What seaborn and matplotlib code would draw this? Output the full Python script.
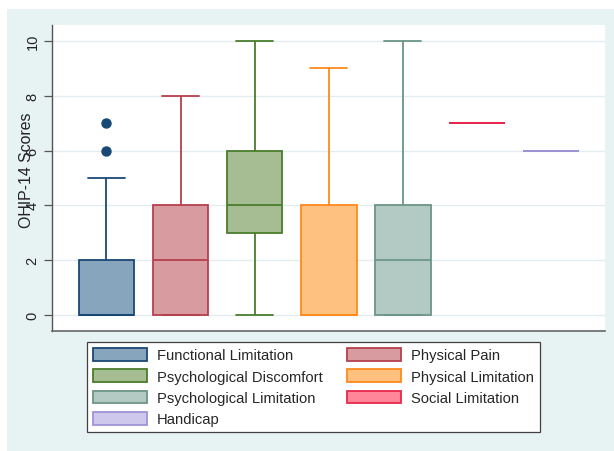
import pandas as pd
import matplotlib.pyplot as plt
import seaborn as sns
from matplotlib.patches import Patch, Rectangle

# OHIP-14 domain scores
domaines = ["Functional Limitation", "Physical Pain", "Psychological Discomfort",
            "Physical Limitation", "Psychological Limitation", "Social Limitation",
            "Handicap"]
functional_limitation = [0, 0, 0, 0, 0, 0, 0, 1, 2, 2, 5, 6, 7]
physical_pain = [0, 0, 0, 1, 2, 3, 4, 6, 8]
psychological_discomfort = [0, 2, 3, 3, 4, 5, 6, 8, 10]
physical_limitation = [0, 0, 0, 0, 0, 2, 4, 6, 9]
psychological_limitation = [0, 0, 0, 1, 2, 3, 4, 7, 10]
social_limitation = [7, 7, 7, 7, 7]
handicap = [6, 6, 6, 6, 6]

remplissage = ["#87a5bc", "#d89ca0", "#a6bd93", "#ffc17f", "#b3cac4", "#ff8599", "#cdc8ec"]
contours = ["#1a4876", "#b5404d", "#4b7d2b", "#ff8a1c", "#6b9588", "#e6284c", "#9f93d8"]

def tracer_boxplots_ohip() :
    series = [functional_limitation, physical_pain, psychological_discomfort,
              physical_limitation, psychological_limitation, social_limitation, handicap]
    lignes = []
    for nom, valeurs in zip(domaines, series) :
        for v in valeurs :
            lignes.append({"domaine": nom, "score": v})
    df = pd.DataFrame(lignes)

    sns.set_theme(style = "white")
    plt.rcParams['font.family'] = ['Liberation Sans', 'DejaVu Sans']

    fig = plt.figure(figsize = (6.14, 4.52), dpi = 100)
    fig.patch.set_facecolor("white")
    # fond du graphique (style Stata)
    fig.add_artist(Rectangle((7 / 614, 0), 1 - 7 / 614, 442 / 452, transform = fig.transFigure,
                             facecolor = "#e7f2f3", edgecolor = "none", zorder = 0))

    ax = fig.add_axes([52 / 614, 120 / 452, 553 / 614, 306 / 452])
    ax.set_facecolor("white")

    for i, nom in enumerate(domaines) :
        sous = df[df["domaine"] == nom]
        sns.boxplot(data = sous, x = "domaine", y = "score", order = domaines, ax = ax,
                    color = remplissage[i], linecolor = contours[i], saturation = 1,
                    width = 0.75, linewidth = 1.3, capwidths = 0.5, fliersize = 6.5,
                    flierprops = {"marker": "o", "markerfacecolor": contours[i],
                                  "markeredgecolor": contours[i]})

    ax.set_xlim(-0.735, 6.727)
    ax.set_ylim(-0.58, 10.58)
    ax.set_yticks(range(0, 11, 2))
    ax.set_xticks([])
    ax.set_xlabel("")
    ax.yaxis.grid(True, color = "#e3edf0", linewidth = 1)
    ax.set_axisbelow(True)

    for cote in ["top", "right"] :
        ax.spines[cote].set_visible(False)
    ax.spines["left"].set_color("#555555")
    ax.spines["bottom"].set_color("#666666")
    ax.spines["left"].set_linewidth(1)
    ax.spines["bottom"].set_linewidth(1.2)

    ax.tick_params(axis = "y", left = True, length = 6, width = 0.9, color = "#555555",
                   pad = 3, labelsize = 10.5, labelcolor = "#222222", labelrotation = 90)
    for lab in ax.get_yticklabels() :
        lab.set_va("center")

    ax.set_ylabel("OHIP-14 Scores", fontsize = 11.4, color = "#222222", va = "center")
    ax.yaxis.set_label_coords(-0.047, 0.527)

    # légende remplie ligne par ligne (matplotlib remplit par colonne)
    ordre = [0, 2, 4, 6, 1, 3, 5]
    poignees = [Patch(facecolor = remplissage[i], edgecolor = contours[i], linewidth = 1.3,
                      label = domaines[i]) for i in ordre]
    leg = fig.legend(handles = poignees, ncol = 2, loc = "upper left",
                     bbox_to_anchor = (87 / 614, 1 - 343 / 452), borderaxespad = 0,
                     fontsize = 10.6, frameon = True, fancybox = False,
                     handlelength = 3.67, handleheight = 0.95, handletextpad = 0.68,
                     columnspacing = 1.63, labelspacing = 0.47, borderpad = 0.4)
    leg.get_frame().set_edgecolor("#404040")
    leg.get_frame().set_linewidth(0.9)
    leg.get_frame().set_facecolor("white")
    leg.get_frame().set_alpha(1)

    plt.savefig("out.png", dpi = 100)

if __name__ == "__main__" :
    tracer_boxplots_ohip()
